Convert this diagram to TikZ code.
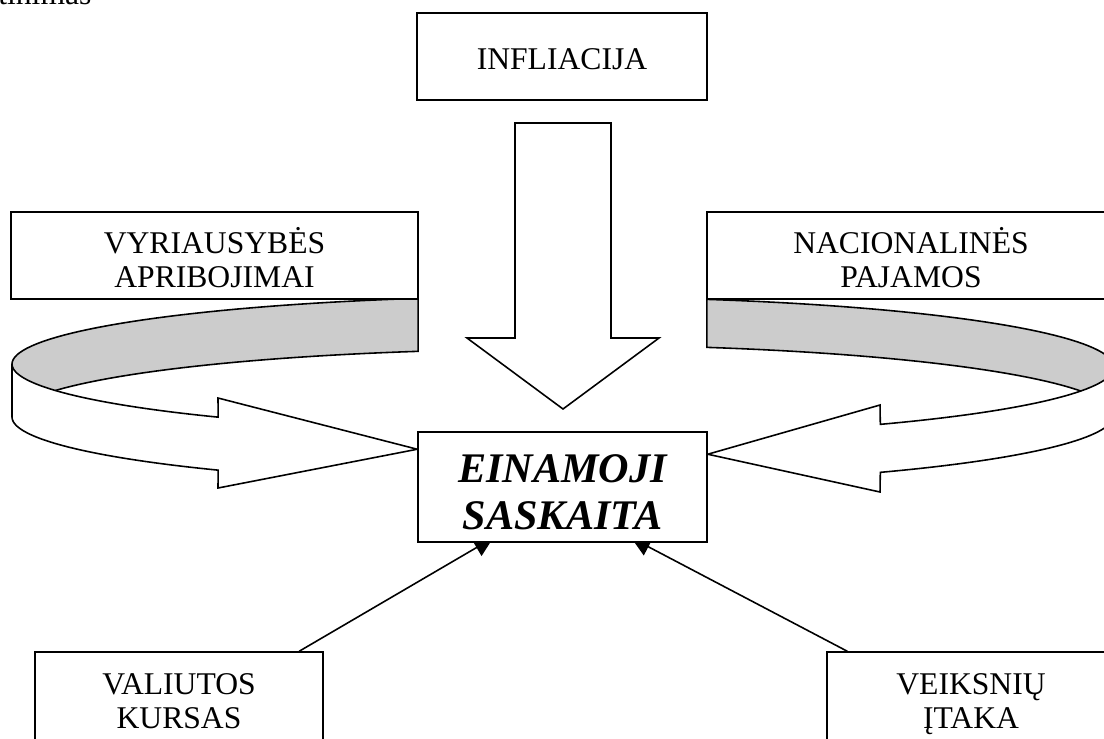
\documentclass[tikz,border=0pt]{standalone}
\usepackage{fontspec}
\setmainfont{Liberation Serif}
\usetikzlibrary{
  arrows.meta,
  positioning,
  calc,
  backgrounds
}
\definecolor{ribbon}{RGB}{204,204,204}

\begin{document}
\begin{tikzpicture}[
  x=0.02cm, y=-0.02cm,
  every node/.style={font=\fontsize{18}{19.5}\selectfont},
  factorbox/.style={draw, line width=0.9pt, fill=white, align=center,
                inner sep=0pt, minimum height=1.74cm},
  oneline/.style={execute at begin node={\rule{0pt}{21pt}},
                execute at end node={\rule[-5.7pt]{0pt}{5.7pt}}},
  twoline/.style={execute at begin node={\rule{0pt}{42pt}},
                execute at end node={\rule[-5.7pt]{0pt}{5.7pt}}},
  mainbox/.style={factorbox, minimum width=5.78cm, minimum height=2.2cm,
                font=\fontsize{24}{27.2}\selectfont\bfseries\itshape,
                execute at begin node={\rule{0pt}{54.5pt}},
                execute at end node={\rule[-5.7pt]{0pt}{5.7pt}}},
  blockarrow/.style={draw, line width=0.9pt, fill=white},
  link/.style={line width=0.9pt, -{Triangle[length=11pt, width=11pt]}}
]
\useasboundingbox (0,0) rectangle (1104,738);

% end of the line above the figure
\node[anchor=base west, inner sep=0pt] (frag) at (-2,4.5) {tinimas};

\node[factorbox, oneline, minimum width=5.8cm] (infl) at (562,56.5) {INFLIACIJA};
\node[factorbox, twoline, minimum width=8.14cm] (gov) at (214.5,255.5) {VYRIAUSYBĖS\\APRIBOJIMAI};
\node[factorbox, twoline, minimum width=8.16cm] (inc) at (911,255.5) {NACIONALINĖS\\PAJAMOS};
\node[mainbox] (acc) at (562.5,487) {EINAMOJI\\SASKAITA};
\node[factorbox, twoline, minimum width=5.76cm, minimum height=1.78cm] (fx) at (179,696.5) {VALIUTOS\\KURSAS};
\node[factorbox, twoline, minimum width=5.76cm, minimum height=1.78cm] (eff) at (971,696.5) {VEIKSNIŲ\\ĮTAKA};

\begin{scope}[on background layer]
% down arrow
\draw[blockarrow] (515,123) -- (611,123) -- (611,338) -- (659,338)
  -- (563,409) -- (467,338) -- (515,338) -- cycle;

% left ribbon arrow
\draw[blockarrow, fill=ribbon]
  plot[domain=255:180, samples=40] ({560+548*cos(\x)}, {364+68*sin(\x)})
  -- plot[domain=180:255, samples=40] ({560+548*cos(\x)}, {417+68*sin(\x)}) -- cycle;
\draw[blockarrow]
  plot[domain=180:128.6, samples=40] ({560+548*cos(\x)}, {364+68*sin(\x)})
  -- (218,398) -- ($(acc.north west)+(0,18)$) -- (218,488)
  -- plot[domain=128.6:180, samples=40] ({560+548*cos(\x)}, {417+68*sin(\x)}) -- cycle;

% right ribbon arrow
\draw[blockarrow, fill=ribbon]
  plot[domain=-75.1:0, samples=40] ({566+548*cos(\x)}, {367+70*sin(\x)})
  -- plot[domain=0:-75.1, samples=40] ({566+548*cos(\x)}, {415+70*sin(\x)}) -- cycle;
\draw[blockarrow]
  plot[domain=0:55, samples=40] ({566+548*cos(\x)}, {367+70*sin(\x)})
  -- (880,405) -- ($(acc.north east)+(0,23)$) -- (880,492)
  -- plot[domain=55:0, samples=40] ({566+548*cos(\x)}, {415+70*sin(\x)}) -- cycle;

\draw[link] ($(fx.north west)+(265,0)$) -- ($(acc.south west)+(76,-5)$);
\draw[link] ($(eff.north west)+(21,0)$) -- ($(acc.south west)+(214,-5)$);
\end{scope}

\end{tikzpicture}
\end{document}
